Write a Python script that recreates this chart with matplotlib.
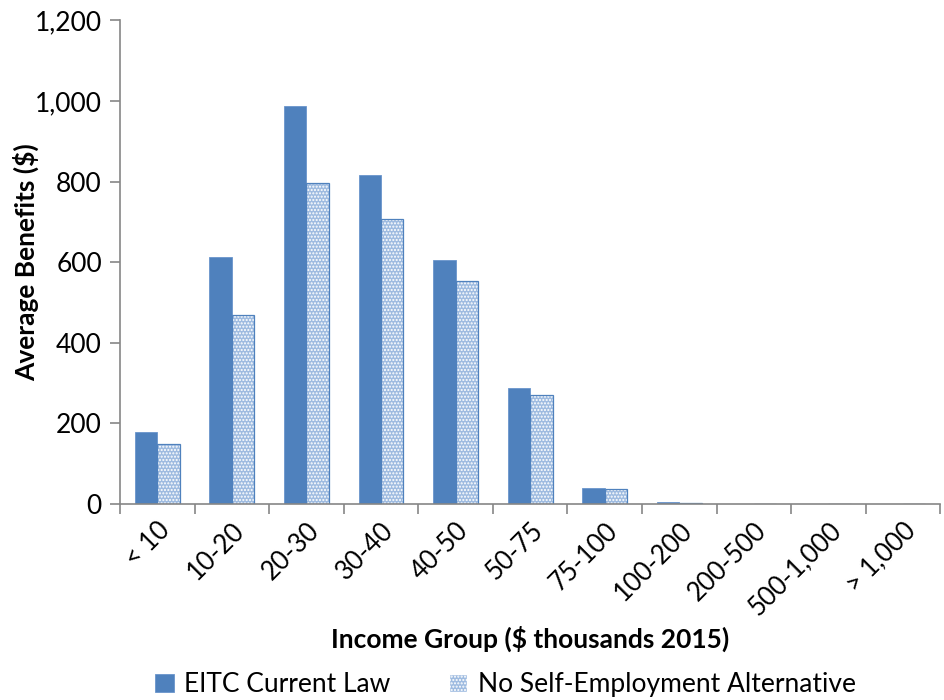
import matplotlib.pyplot as plt
import numpy as np

plt.rcParams['font.family'] = ['Lato', 'DejaVu Sans']

groups = ['< 10', '10-20', '20-30', '30-40', '40-50', '50-75', '75-100',
          '100-200', '200-500', '500-1,000', '> 1,000']
current_law = [178, 612, 987, 816, 605, 288, 40, 5, 0, 0, 0]
no_self_emp = [149, 469, 796, 707, 553, 270, 37, 3, 0, 0, 0]

blue = '#4f81bd'
light = '#9ebbe0'

fig = plt.figure(figsize=(9.45, 7), dpi=100)
ax = fig.add_axes([0.127, 0.28, 0.868, 0.691])

x = np.arange(len(groups))
w = 0.3
ax.bar(x - w / 2, current_law, w, color=blue, edgecolor='#6a95cc', linewidth=0.6,
       label='EITC Current Law')
ax.bar(x + w / 2, no_self_emp, w, color=light, edgecolor='white', hatch='.....',
       linewidth=0)
ax.bar(x + w / 2, no_self_emp, w, fill=False, edgecolor=blue, linewidth=0.9)
# legend proxy
ax.bar([0], [0], 0, color=light, edgecolor='white', hatch='.....',
       label='No Self-Employment Alternative')

ax.set_xlim(-0.5, len(groups) - 0.5)
ax.set_ylim(0, 1200)
ax.set_yticks(range(0, 1201, 200))
ax.set_yticklabels([f'{v:,}' for v in range(0, 1201, 200)], fontsize=19)

ax.set_xticks(np.arange(len(groups) + 1) - 0.5)
ax.set_xticklabels([])
ax.set_xticks(x, minor=True)
ax.set_xticklabels(groups, minor=True, rotation=45, ha='right',
                   rotation_mode='anchor', fontsize=18.5)
ax.tick_params(axis='x', which='minor', length=0, pad=10)
ax.tick_params(axis='x', which='major', length=7, color='#868686', width=1.2)
ax.tick_params(axis='y', length=7, color='#868686', width=1.2, pad=6)

for s in ['top', 'right']:
    ax.spines[s].set_visible(False)
for s in ['left', 'bottom']:
    ax.spines[s].set_color('#868686')
    ax.spines[s].set_linewidth(1.2)

ax.set_ylabel('Average Benefits ($)', fontsize=19, fontweight='bold',
              va='center')
ax.yaxis.set_label_coords(-0.115, 0.5)
ax.set_xlabel('Income Group ($ thousands 2015)', fontsize=19, fontweight='bold',
              labelpad=4)

fig.legend(loc='lower center', bbox_to_anchor=(0.535, -0.03), ncol=2,
           frameon=False, fontsize=19, handlelength=0.7, handleheight=0.7,
           columnspacing=2.2, handletextpad=0.4)

fig.savefig('out.png', dpi=100)
